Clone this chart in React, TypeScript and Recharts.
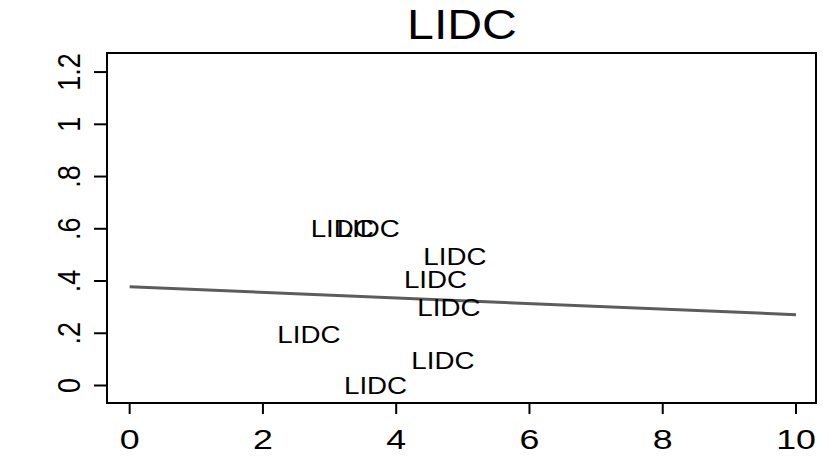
import React from "react";
import {
  ComposedChart,
  XAxis,
  YAxis,
  Line,
  Scatter,
  ReferenceArea,
} from "recharts";

const pointX = [2.69, 3.19, 3.58, 4.88, 4.59, 4.79, 4.7, 3.69];
const pointY = [0.194, 0.6, 0.6, 0.494, 0.407, 0.3, 0.095, 0.0];
const pointLabel = "LIDC";

const lineX = [0, 10];
const lineY = [0.378, 0.271];

const xTicks = [0, 2, 4, 6, 8, 10];
const yTicks = [0, 0.2, 0.4, 0.6, 0.8, 1, 1.2];
const yTickLabels = ["0", ".2", ".4", ".6", ".8", "1", "1.2"];
const title = "LIDC";

const X_DOMAIN: [number, number] = [-0.34, 10.3];
const Y_DOMAIN: [number, number] = [-0.067, 1.273];

const scatterData = pointX.map((x, i) => ({ x, y: pointY[i] }));
const lineData = lineX.map((x, i) => ({ x, y: lineY[i] }));

const FONT = "'Liberation Sans', Arial, Helvetica, sans-serif";
const SX = 1.18;

const XTick = (props: any) => {
  const { x, y, payload } = props;
  return (
    <text
      transform={`translate(${x},${y + 35}) scale(1.3,1)`}
      textAnchor="middle"
      fontFamily={FONT}
      fontSize={27.5}
      fill="#000"
    >
      {String(payload.value)}
    </text>
  );
};

const YTick = (props: any) => {
  const { x, y, payload } = props;
  const idx = yTicks.findIndex((t) => Math.abs(t - payload.value) < 1e-9);
  const label = idx >= 0 ? yTickLabels[idx] : String(payload.value);
  return (
    <text
      transform={`translate(${x - 14},${y}) scale(${SX},1) rotate(-90)`}
      textAnchor="middle"
      fontFamily={FONT}
      fontSize={27}
      fill="#000"
    >
      {label}
    </text>
  );
};

const LabelShape = (props: any) => {
  const { cx, cy } = props;
  return (
    <text
      transform={`translate(${cx},${cy + 8.4}) scale(${SX},1)`}
      textAnchor="middle"
      fontFamily={FONT}
      fontSize={23.5}
      fill="#000"
    >
      {pointLabel}
    </text>
  );
};

export default function App() {
  return (
    <div
      style={{
        position: "absolute",
        left: 0,
        top: 0,
        width: 829,
        height: 456,
        background: "#fff",
      }}
    >
      <svg
        width={829}
        height={456}
        style={{ position: "absolute", left: 0, top: 0, pointerEvents: "none" }}
      >
        <text
          transform={`translate(462,38.5) scale(${SX * 0.95},1)`}
          textAnchor="middle"
          fontFamily={FONT}
          fontSize={43}
          fill="#000"
        >
          {title}
        </text>
      </svg>
      <ComposedChart
        width={829}
        height={456}
        margin={{ top: 53, right: 13, bottom: 0, left: 0 }}
      >
        <XAxis
          xAxisId="b"
          type="number"
          dataKey="x"
          domain={X_DOMAIN}
          ticks={xTicks}
          allowDataOverflow
          height={53}
          axisLine={{ stroke: "#000", strokeWidth: 2 }}
          tickLine={{ stroke: "#000", strokeWidth: 2 }}
          tickSize={11}
          tickMargin={0}
          tick={<XTick />}
          interval={0}
        />
        <YAxis
          yAxisId="l"
          type="number"
          dataKey="y"
          domain={Y_DOMAIN}
          ticks={yTicks}
          allowDataOverflow
          width={107}
          axisLine={{ stroke: "#000", strokeWidth: 2 }}
          tickLine={{ stroke: "#000", strokeWidth: 2 }}
          tickSize={13}
          tickMargin={0}
          tick={<YTick />}
          interval={0}
        />
        <ReferenceArea
          xAxisId="b"
          yAxisId="l"
          x1={X_DOMAIN[0]}
          x2={X_DOMAIN[1]}
          y1={Y_DOMAIN[0]}
          y2={Y_DOMAIN[1]}
          fill="none"
          fillOpacity={0}
          stroke="#000"
          strokeWidth={2}
          strokeOpacity={1}
          ifOverflow="visible"
        />
        <Line
          xAxisId="b"
          yAxisId="l"
          data={lineData}
          dataKey="y"
          stroke="#5c5c5c"
          strokeWidth={3}
          dot={false}
          activeDot={false}
          isAnimationActive={false}
        />
        <Scatter
          xAxisId="b"
          yAxisId="l"
          data={scatterData}
          dataKey="y"
          shape={<LabelShape />}
          isAnimationActive={false}
        />
      </ComposedChart>
    </div>
  );
}
